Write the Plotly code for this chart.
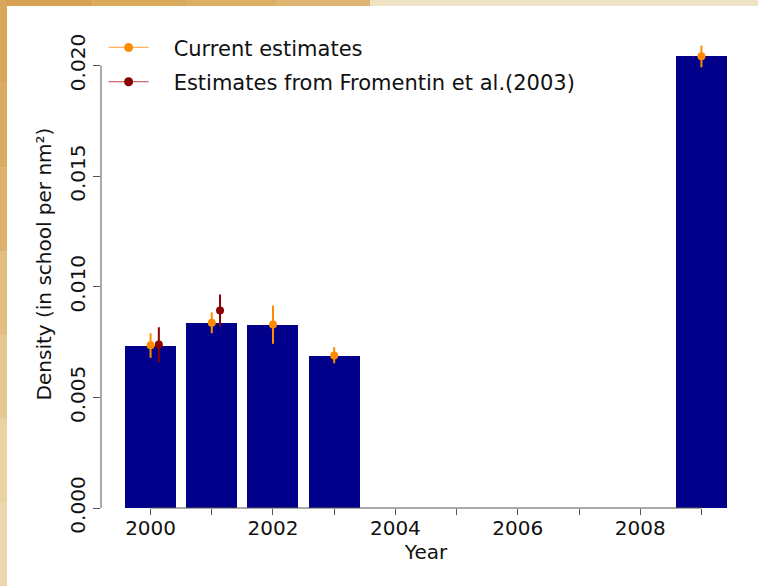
import plotly.graph_objects as go

# ---- data ----
years = [2000, 2001, 2002, 2003, 2004, 2005, 2006, 2007, 2008, 2009]
density = [0.00734, 0.00837, 0.00829, 0.00689, None, None, None, None, None, 0.02042]

cur_years = [2000, 2001, 2002, 2003, 2009]
cur_vals = [0.00736, 0.00837, 0.00829, 0.00689, 0.02042]
cur_low = [0.00679, 0.00790, 0.00742, 0.00654, 0.01992]
cur_high = [0.00790, 0.00884, 0.00915, 0.00727, 0.02090]

fro_years = [2000, 2001]
fro_vals = [0.00739, 0.00893]
fro_low = [0.00659, 0.00820]
fro_high = [0.00817, 0.00965]

x_ticks = years
x_ticktext = [str(y) if y % 2 == 0 else "" for y in years]
y_ticks = [0.000, 0.005, 0.010, 0.015, 0.020]
y_ticktext = ["0.000", "0.005", "0.010", "0.015", "0.020"]

# ---- style ----
W, H = 758, 586
ML, MR, MT, MB = 101, 7, 20, 78
FONT = "DejaVu Sans"
BAR = "#00008B"
ORANGE = "#FF8C00"
DARKRED = "#8B0000"
AX = "#555555"
fro_offset = 0.135
PAD = "\u00a0" * 3

fig = go.Figure()
fig.add_trace(go.Bar(x=years, y=density, width=1 / 1.2, marker=dict(color=BAR, line=dict(width=0)),
                     showlegend=False, hoverinfo="skip"))

fig.add_trace(go.Scatter(
    x=cur_years, y=cur_vals, mode="markers", showlegend=False,
    marker=dict(color=ORANGE, size=8),
    error_y=dict(type="data", symmetric=False,
                 array=[h - v for h, v in zip(cur_high, cur_vals)],
                 arrayminus=[v - l for v, l in zip(cur_vals, cur_low)],
                 color=ORANGE, thickness=2, width=0)))

fig.add_trace(go.Scatter(
    x=[y + fro_offset for y in fro_years], y=fro_vals, mode="markers", showlegend=False,
    marker=dict(color=DARKRED, size=8),
    error_y=dict(type="data", symmetric=False,
                 array=[h - v for h, v in zip(fro_high, fro_vals)],
                 arrayminus=[v - l for v, l in zip(fro_vals, fro_low)],
                 color=DARKRED, thickness=2, width=0)))

# legend entries
fig.add_trace(go.Scatter(x=[None], y=[None], mode="lines+markers", name=PAD + "Current estimates",
                         legendgroup="a", line=dict(color="#FFB060", width=1.2),
                         marker=dict(color=ORANGE, size=9)))
fig.add_trace(go.Scatter(x=[None], y=[None], mode="lines+markers",
                         name=PAD + "Estimates from Fromentin et al.(2003)",
                         legendgroup="b", line=dict(color="#C04040", width=1.2),
                         marker=dict(color=DARKRED, size=9)))

pw = W - ML - MR
ph = H - MT - MB
shapes = []


def px_to_paper_x(px):
    return (px - ML) / pw


def px_to_paper_y(py):
    return 1 - (py - MT) / ph


# background decor (outside white panel)
top_cols = ["#D5A255", "#D9A95C", "#DCAF66", "#DFB470"]
nt = len(top_cols)
for i, c in enumerate(top_cols):
    shapes.append(dict(type="rect", xref="paper", yref="paper", layer="below",
                       x0=px_to_paper_x(370 * i / nt), x1=px_to_paper_x(370 * (i + 1) / nt),
                       y0=px_to_paper_y(6), y1=px_to_paper_y(0),
                       fillcolor=c, line=dict(width=0)))
shapes.append(dict(type="rect", xref="paper", yref="paper", layer="below",
                   x0=px_to_paper_x(370), x1=px_to_paper_x(W), y0=px_to_paper_y(6), y1=px_to_paper_y(0),
                   fillcolor="#F0E2C5", line=dict(width=0)))
left_cols = ["#D8A75A", "#D9AB62", "#DDB26C", "#E2BE80", "#E6C892", "#EAD2A2", "#ECD8AC"]
n = len(left_cols)
for i, c in enumerate(left_cols):
    shapes.append(dict(type="rect", xref="paper", yref="paper", layer="below",
                       x0=px_to_paper_x(0), x1=px_to_paper_x(7),
                       y0=px_to_paper_y(H * (i + 1) / n), y1=px_to_paper_y(H * i / n),
                       fillcolor=c, line=dict(width=0)))
shapes.append(dict(type="rect", xref="paper", yref="paper", layer="below",
                   x0=px_to_paper_x(7), x1=px_to_paper_x(W), y0=px_to_paper_y(H), y1=px_to_paper_y(6),
                   fillcolor="white", line=dict(width=0)))
# axis lines (R style: from first to last tick)
shapes.append(dict(type="line", xref="paper", yref="y", x0=0, x1=0, y0=y_ticks[0], y1=y_ticks[-1],
                   line=dict(color=AX, width=1)))
shapes.append(dict(type="line", xref="x", yref="paper", x0=x_ticks[0], x1=x_ticks[-1], y0=0, y1=0,
                   line=dict(color=AX, width=1)))

xr0 = 2000 - (0.7 + 0.272) / 1.2
xr1 = 2000 + (12.472 - 0.7) / 1.2
y_top = 0.02 * ph / 442.5

fig.update_layout(
    width=W, height=H,
    margin=dict(l=ML, r=MR, t=MT, b=MB, pad=0),
    paper_bgcolor="#E8CF98",
    plot_bgcolor="rgba(0,0,0,0)",
    font=dict(family=FONT, size=20, color="#111111"),
    shapes=shapes,
    bargap=0,
    xaxis=dict(range=[xr0, xr1], tickmode="array", tickvals=x_ticks, ticktext=x_ticktext,
               ticks="outside", ticklen=6, tickcolor=AX, tickwidth=1, ticklabelstandoff=-4,
               showgrid=False, zeroline=False, showline=False,
               tickfont=dict(size=20, family=FONT),
               title=dict(text="Year", font=dict(size=20, family=FONT), standoff=4)),
    yaxis=dict(range=[0, y_top], tickmode="array", tickvals=y_ticks, ticktext=y_ticktext,
               ticks="outside", ticklen=7, tickcolor=AX, tickwidth=1, tickangle=-90,
               showgrid=False, zeroline=False, showline=False,
               tickfont=dict(size=20, family=FONT),
               title=dict(text="Density (in school per nm²)", font=dict(size=20, family=FONT), standoff=9)),
    legend=dict(x=0.004, y=0.985, xanchor="left", yanchor="top", bgcolor="rgba(0,0,0,0)",
                font=dict(size=21, family=FONT), tracegroupgap=4, traceorder="grouped",
                itemwidth=40),
)

fig.write_html("out.html", config={"displayModeBar": False},
               post_script="document.body.style.margin='0';document.body.style.padding='0';"
                           "document.documentElement.style.margin='0';")
